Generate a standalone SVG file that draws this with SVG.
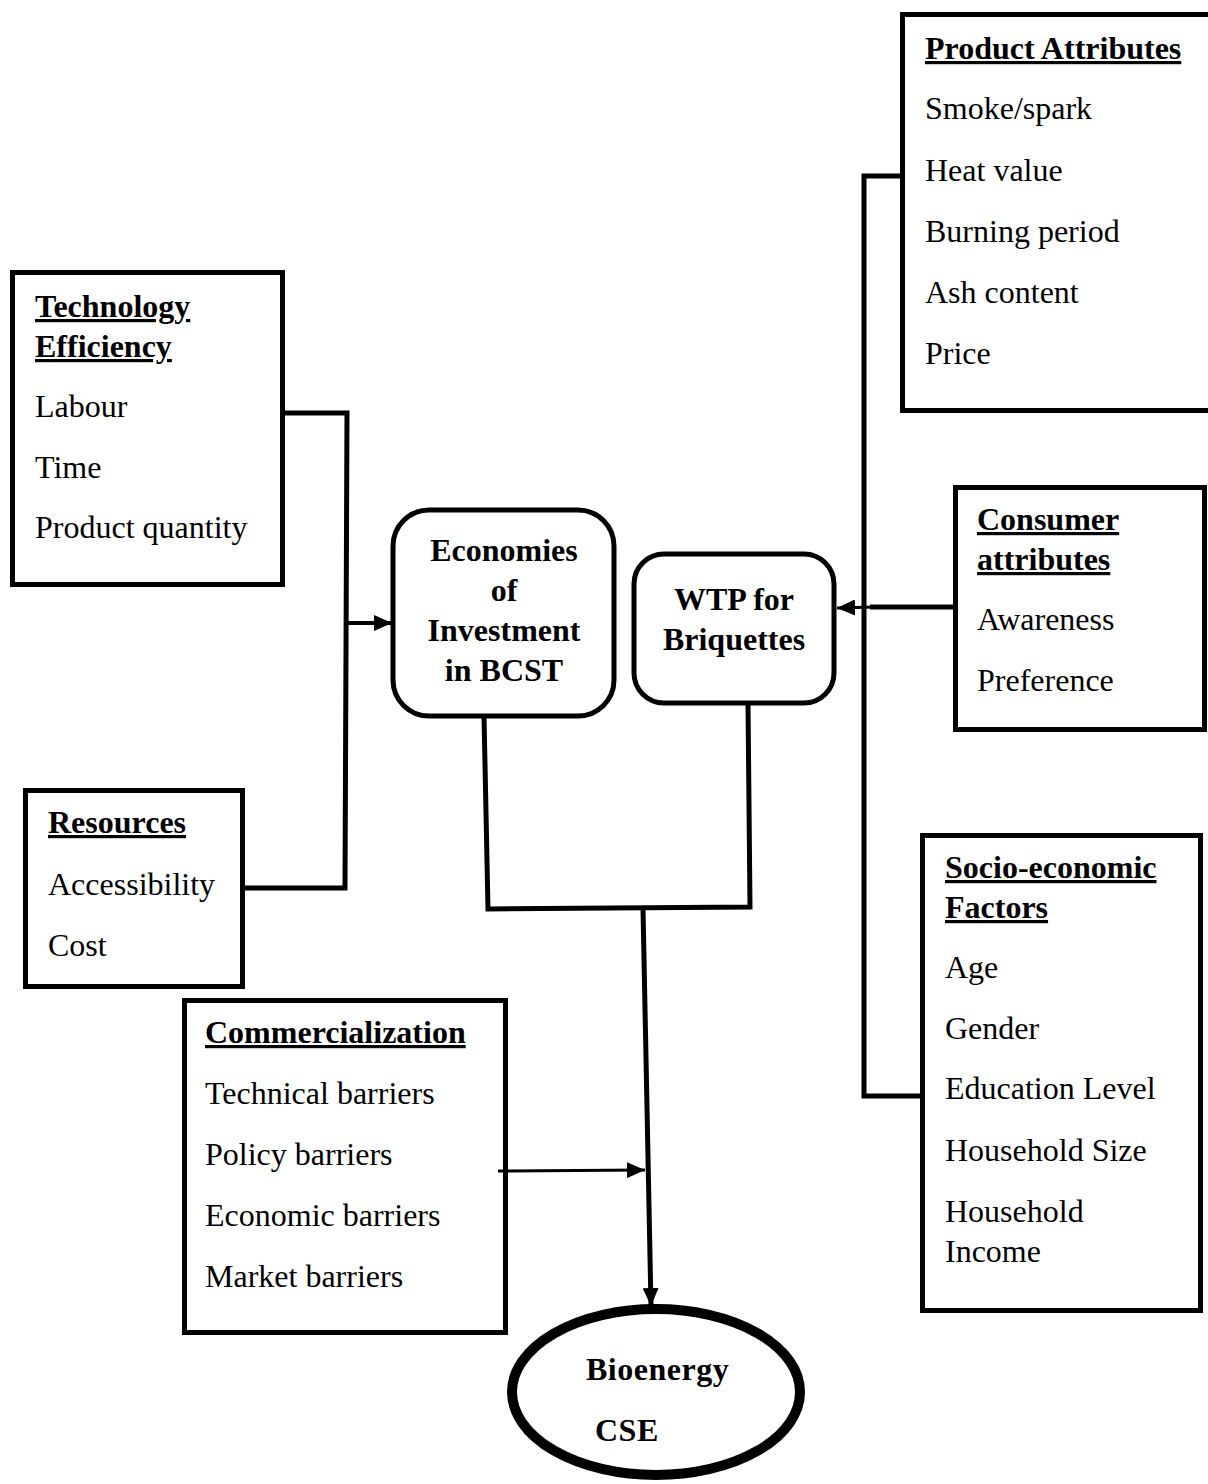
<svg xmlns="http://www.w3.org/2000/svg" width="1208" height="1484" viewBox="0 0 1208 1484">
<defs>
<style>
.box{fill:#fff;stroke:#000;stroke-width:5}
.rbox{fill:#fff;stroke:#000;stroke-width:5}
.t{font-family:"Liberation Serif","Times New Roman",serif;font-size:32px;fill:#000}
.h{font-family:"Liberation Serif","Times New Roman",serif;font-size:32px;font-weight:bold;fill:#000;text-decoration:underline}
.c{font-family:"Liberation Serif","Times New Roman",serif;font-size:32px;font-weight:bold;fill:#000;text-anchor:middle}
.ln{fill:none;stroke:#000;stroke-width:5;stroke-linejoin:miter}
.thin{fill:none;stroke:#000;stroke-width:3}
</style>
<marker id="arr" markerUnits="userSpaceOnUse" markerWidth="20" markerHeight="16" refX="18" refY="8" orient="auto">
<path d="M0,0 L18,8 L0,16 Z" fill="#000"/>
</marker>
</defs>
<rect width="1208" height="1484" fill="#fff"/>

<g id="tech">
<rect class="box" x="12.5" y="272.5" width="270" height="312"/>
<text class="h" x="35" y="317">Technology</text>
<text class="h" x="35" y="357">Efficiency</text>
<text class="t" x="35" y="417">Labour</text>
<text class="t" x="35" y="478">Time</text>
<text class="t" x="35" y="538">Product quantity</text>
</g>

<g id="resources">
<rect class="box" x="25.5" y="790.5" width="217" height="196"/>
<text class="h" x="48" y="833">Resources</text>
<text class="t" x="48" y="895">Accessibility</text>
<text class="t" x="48" y="956">Cost</text>
</g>

<g id="commercialization">
<rect class="box" x="184.5" y="1000.5" width="321" height="332"/>
<text class="h" x="205" y="1043">Commercialization</text>
<text class="t" x="205" y="1104">Technical barriers</text>
<text class="t" x="205" y="1165">Policy barriers</text>
<text class="t" x="205" y="1226">Economic barriers</text>
<text class="t" x="205" y="1287">Market barriers</text>
</g>

<g id="economies">
<rect class="rbox" x="393" y="510" width="221" height="206" rx="36" ry="36"/>
<text class="c" x="504" y="561">Economies</text>
<text class="c" x="504" y="601">of</text>
<text class="c" x="504" y="641">Investment</text>
<text class="c" x="504" y="681">in BCST</text>
</g>

<g id="wtp">
<rect class="rbox" x="634" y="554" width="200" height="149" rx="30" ry="30"/>
<text class="c" x="734" y="610">WTP for</text>
<text class="c" x="734" y="650">Briquettes</text>
</g>

<g id="product">
<rect class="box" x="902.5" y="14.5" width="320" height="396"/>
<text class="h" x="925" y="59">Product Attributes</text>
<text class="t" x="925" y="119">Smoke/spark</text>
<text class="t" x="925" y="181">Heat value</text>
<text class="t" x="925" y="242">Burning period</text>
<text class="t" x="925" y="303">Ash content</text>
<text class="t" x="925" y="364">Price</text>
</g>

<g id="consumer">
<rect class="box" x="955.5" y="487.5" width="249" height="242"/>
<text class="h" x="977" y="530">Consumer</text>
<text class="h" x="977" y="570">attributes</text>
<text class="t" x="977" y="630">Awareness</text>
<text class="t" x="977" y="691">Preference</text>
</g>

<g id="socio">
<rect class="box" x="922.5" y="835.5" width="278" height="475"/>
<text class="h" x="945" y="878">Socio-economic</text>
<text class="h" x="945" y="918">Factors</text>
<text class="t" x="945" y="978">Age</text>
<text class="t" x="945" y="1039">Gender</text>
<text class="t" x="945" y="1099">Education Level</text>
<text class="t" x="945" y="1161">Household Size</text>
<text class="t" x="945" y="1222">Household</text>
<text class="t" x="945" y="1262">Income</text>
</g>

<g id="bioenergy">
<ellipse cx="656" cy="1392" rx="144" ry="83" fill="#fff" stroke="#000" stroke-width="10"/>
<text class="t" x="586" y="1380" style="font-weight:bold;letter-spacing:0.5px">Bioenergy</text>
<text class="t" x="595" y="1441" style="font-weight:bold;letter-spacing:0.5px">CSE</text>
</g>

<g id="connectors">
<polyline class="ln" points="285,413 347,413 345,888 245,888"/>
<line x1="346" y1="623" x2="392" y2="623" stroke="#000" stroke-width="4" marker-end="url(#arr)"/>
<polyline class="ln" points="902,176 864,176 864,1096 922,1096"/>
<line class="ln" x1="955" y1="607" x2="870" y2="607"/>
<line x1="875" y1="607" x2="837" y2="608" stroke="#000" stroke-width="3" marker-end="url(#arr)"/>
<polyline class="ln" points="484,716 488,909 750,907 748,703"/>
<line x1="643" y1="909" x2="651" y2="1306" stroke="#000" stroke-width="5" marker-end="url(#arr)"/>
<line x1="498" y1="1171" x2="645" y2="1170" class="thin" marker-end="url(#arr)"/>
</g>
</svg>
